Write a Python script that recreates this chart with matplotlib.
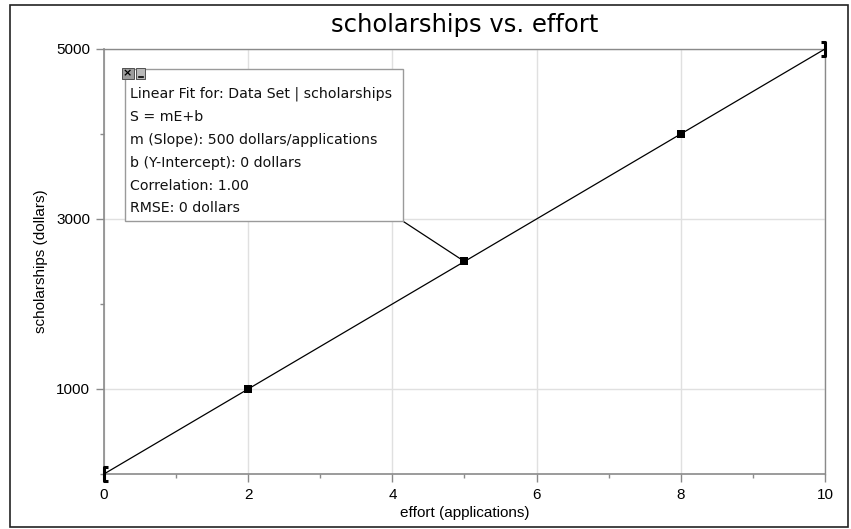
import matplotlib
matplotlib.use('Agg')
import matplotlib.pyplot as plt
from matplotlib.patches import Rectangle
from matplotlib.path import Path
import numpy as np

# data
effort = [0, 2, 5, 8, 10]
scholarships = [0, 1000, 2500, 4000, 5000]
slope = 500
intercept = 0
fit_lines = [
    'Linear Fit for: Data Set | scholarships',
    'S = mE+b',
    'm (Slope): 500 dollars/applications',
    'b (Y-Intercept): 0 dollars',
    'Correlation: 1.00',
    'RMSE: 0 dollars',
]

plt.rcParams['font.family'] = ['Liberation Sans', 'DejaVu Sans']

fig = plt.figure(figsize=(8.51, 5.29), dpi=100)
ax = fig.add_axes([0.1222, 0.104, 0.8472, 0.8034])

AX_GRAY = '#8a8a8a'
GRID = '#e0e0e0'

ax.set_xlim(0, 10)
ax.set_ylim(0, 5000)
ax.set_xticks([0, 2, 4, 6, 8, 10])
ax.set_xticks([1, 3, 5, 7, 9], minor=True)
ax.set_yticks([1000, 3000, 5000])
ax.set_yticks([0, 2000, 4000], minor=True)
ax.tick_params(which='major', length=6, width=1, color=AX_GRAY, labelsize=11, pad=4)
ax.tick_params(which='minor', length=3, width=1, color=AX_GRAY)
for s in ax.spines.values():
    s.set_color(AX_GRAY)
    s.set_linewidth(1.2)
ax.spines['top'].set_linewidth(1.0)
ax.spines['right'].set_linewidth(1.0)
ax.grid(True, which='major', color=GRID, linewidth=1.0, zorder=0)
ax.set_axisbelow(True)

# fit line
xf = np.array([effort[0], effort[-1]])
ax.plot(xf, slope * xf + intercept, color='black', linewidth=0.9, zorder=3, clip_on=False)
# data points
ax.plot(effort[1:-1], scholarships[1:-1], linestyle='none', marker='s', markersize=5.8,
        markeredgewidth=0, color='black', zorder=4, clip_on=False)

# fit range brackets
left_br = Path([(0.55, 1), (0, 1), (0, -1), (0.55, -1)],
               [Path.MOVETO, Path.LINETO, Path.LINETO, Path.LINETO])
right_br = Path([(-0.55, 1), (0, 1), (0, -1), (-0.55, -1)],
                [Path.MOVETO, Path.LINETO, Path.LINETO, Path.LINETO])
ax.plot([effort[0]], [scholarships[0]], marker=left_br, markersize=10, markeredgewidth=2.2,
        markerfacecolor='none', color='black', linestyle='none', zorder=5, clip_on=False)
ax.plot([effort[-1]], [scholarships[-1]], marker=right_br, markersize=10, markeredgewidth=2.2,
        markerfacecolor='none', color='black', linestyle='none', zorder=5, clip_on=False)

ax.set_xlabel('effort (applications)', fontsize=11, labelpad=3)
ax.set_ylabel('scholarships (dollars)', fontsize=11, labelpad=6)
ax.set_title('scholarships vs. effort', fontsize=17.5, family='DejaVu Sans', pad=12)

# annotation box
bx0, bx1, by0, by1 = 0.29, 4.15, 2972, 4764
ax.plot([bx1, effort[2]], [by0, scholarships[2]], color='black', linewidth=0.9, zorder=3)
ax.add_patch(Rectangle((bx0, by0), bx1 - bx0, by1 - by0, facecolor='white',
                       edgecolor='#9a9a9a', linewidth=1.0, zorder=6))
for i, line in enumerate(fit_lines):
    ax.text(bx0 + 0.07, by1 - 295 - i * 269, line, fontsize=10.2, family='DejaVu Sans',
            ha='left', va='center', zorder=7, color='#111111')
# small window buttons
ax.add_patch(Rectangle((0.25, by1 - 118), 0.16, 128, facecolor='#9c9c9c',
                       edgecolor='#505050', linewidth=0.7, zorder=8, clip_on=False))
ax.text(0.33, by1 - 52, '×', fontsize=8, ha='center', va='center', zorder=9,
        family='DejaVu Sans', fontweight='bold', color='black')
ax.add_patch(Rectangle((0.445, by1 - 118), 0.13, 128, facecolor='#b8b8b8',
                       edgecolor='#505050', linewidth=0.7, zorder=8, clip_on=False))
ax.plot([0.48, 0.54], [by1 - 95, by1 - 95], color='black', linewidth=1.2, zorder=9)

# outer frame
fig.add_artist(Rectangle((10 / 851, 2 / 529), 838 / 851, 522 / 529, transform=fig.transFigure,
                         facecolor='none', edgecolor='#222222', linewidth=1.2))

fig.savefig('out.png', dpi=100)
